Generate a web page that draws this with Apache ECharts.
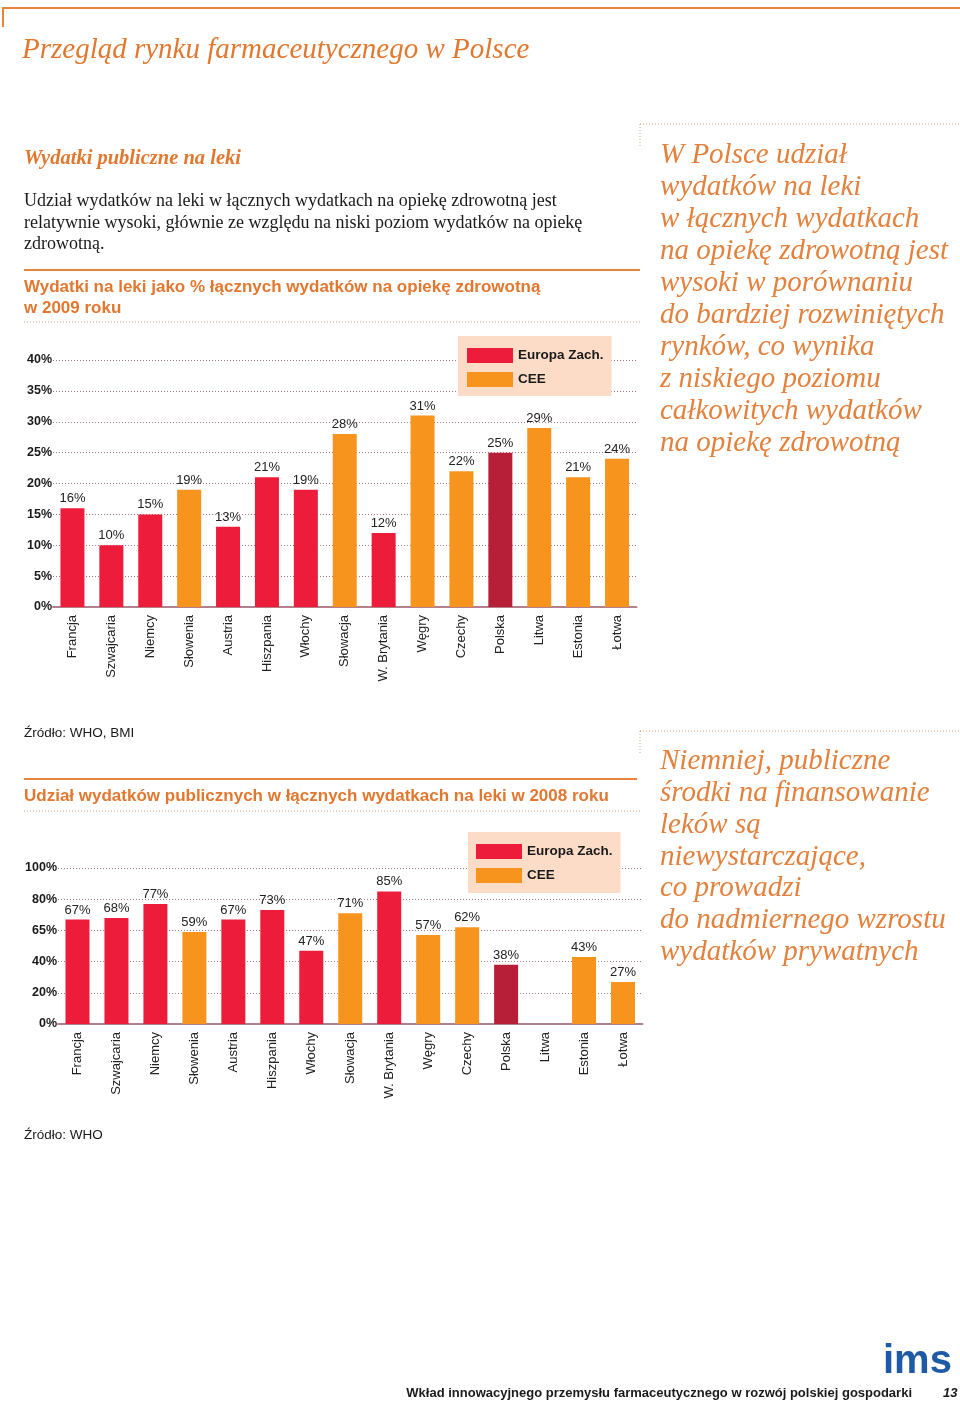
<!DOCTYPE html>
<html>
<head>
<meta charset="utf-8">
<script src="https://cdn.jsdelivr.net/npm/echarts@6/dist/echarts.min.js"></script>
<style>
html,body{margin:0;padding:0;background:#fff;}
#page{width:960px;height:1402px;}
</style>
</head>
<body>
<div id="page"></div>
<script>
// ---- data ----
const countries = ['Francja','Szwajcaria','Niemcy','Słowenia','Austria','Hiszpania','Włochy','Słowacja','W. Brytania','Węgry','Czechy','Polska','Litwa','Estonia','Łotwa'];
const regions = ['W','W','W','C','W','W','W','C','W','C','C','C','C','C','C']; // W = Europa Zach., C = CEE
const highlighted = 'Polska';
const drugShare2009 = [16,10,15,19,13,21,19,28,12,31,22,25,29,21,24];
const publicShare2008 = [67,68,77,59,67,73,47,71,85,57,62,38,null,43,27];
const yTicks1 = ['0%','5%','10%','15%','20%','25%','30%','35%','40%'];
const yTicks2 = ['0%','20%','40%','65%','80%','100%'];
const seriesNames = ['Europa Zach.','CEE'];

// ---- styles ----
const RED = '#ec1c3a', ORANGE = '#f7941d', DARK = '#b71f38';
const TITLE_OR = '#e2782f', QUOTE_OR = '#e3813d';
const SANS = '"Liberation Sans", Arial, sans-serif';
const SERIF = '"Liberation Serif", "Times New Roman", serif';

function seriesData(values, code) {
  return values.map((v, i) => {
    if (regions[i] !== code || v === null) return '-';
    if (countries[i] === highlighted) return { value: v, itemStyle: { color: DARK } };
    return v;
  });
}

function makeSeries(values, idx) {
  return ['W','C'].map((code, k) => ({
    name: seriesNames[k],
    type: 'bar',
    xAxisIndex: idx, yAxisIndex: idx,
    stack: 'chart' + idx,
    barWidth: 24,
    itemStyle: { color: k === 0 ? RED : ORANGE },
    label: {
      show: true, position: 'top', distance: 3,
      formatter: p => p.value + '%',
      color: '#222', fontFamily: SANS, fontSize: 13
    },
    emphasis: { disabled: true },
    data: seriesData(values, code)
  }));
}

const gridLine = { show: true, lineStyle: { type: [1, 2], color: '#a87878', width: 1 } };
const xAxisCommon = {
  type: 'category', data: countries,
  axisTick: { show: false },
  axisLine: { show: true, lineStyle: { color: '#b3808c', width: 2 } },
  axisLabel: { rotate: 90, color: '#222', fontFamily: SANS, fontSize: 13, margin: 8, interval: 0 }
};

function txt(x, y, text, font, fill, extra) {
  return Object.assign({ type: 'text', x: x, y: y, silent: true,
    style: Object.assign({ text: text, font: font, fill: fill, verticalAlign: 'middle', align: 'left' }, extra || {}) });
}
function line(x1, y1, x2, y2, color, width, dash) {
  return { type: 'line', silent: true, shape: { x1, y1, x2, y2 },
    style: { stroke: color, lineWidth: width, lineDash: dash || null } };
}

const paragraph = [
  'Udział wydatków na leki w łącznych wydatkach na opiekę zdrowotną jest',
  'relatywnie wysoki, głównie ze względu na niski poziom wydatków na opiekę',
  'zdrowotną.'
];
const quote1 = ['W Polsce udział','wydatków na leki','w łącznych wydatkach','na opiekę zdrowotną jest','wysoki w porównaniu','do bardziej rozwiniętych','rynków, co wynika','z niskiego poziomu','całkowitych wydatków','na opiekę zdrowotną'];
const quote2 = ['Niemniej, publiczne','środki na finansowanie','leków są','niewystarczające,','co prowadzi','do nadmiernego wzrostu','wydatków prywatnych'];

const graphics = [
  line(3, 8, 960, 8, '#e8843c', 2),
  line(3, 7, 3, 27, '#e8843c', 2),
  txt(22, 50, 'Przegląd rynku farmaceutycznego w Polsce', 'italic 29px ' + SERIF, TITLE_OR),
  txt(24, 159, 'Wydatki publiczne na leki', 'italic bold 20.5px ' + SERIF, TITLE_OR),
  txt(24, 191, paragraph.join('\n'), '18px ' + SERIF, '#1a1a1a', { verticalAlign: 'top', lineHeight: 21.5 }),
  line(24, 270, 640, 270, '#e8843c', 2),
  txt(24, 287, 'Wydatki na leki jako % łącznych wydatków na opiekę zdrowotną', 'bold 17px ' + SANS, TITLE_OR),
  txt(24, 308, 'w 2009 roku', 'bold 17px ' + SANS, TITLE_OR),
  line(24, 322, 640, 322, '#d9a27a', 1, [1, 2]),
  line(640, 124, 960, 124, '#d9a27a', 1, [1, 2]),
  line(640, 124, 640, 148, '#d9a27a', 1, [1, 2]),
  txt(660, 139, quote1.join('\n'), 'italic 29px ' + SERIF, QUOTE_OR, { verticalAlign: 'top', lineHeight: 32 }),
  txt(24, 733, 'Źródło: WHO, BMI', '13.5px ' + SANS, '#1a1a1a'),
  line(24, 779, 637, 779, '#e8843c', 2),
  txt(24, 796, 'Udział wydatków publicznych w łącznych wydatkach na leki w 2008 roku', 'bold 17px ' + SANS, TITLE_OR),
  line(24, 811, 640, 811, '#d9a27a', 1, [1, 2]),
  line(640, 731, 960, 731, '#d9a27a', 1, [1, 2]),
  line(640, 731, 640, 755, '#d9a27a', 1, [1, 2]),
  txt(660, 746, quote2.join('\n'), 'italic 29px ' + SERIF, QUOTE_OR, { verticalAlign: 'top', lineHeight: 31.7 }),
  txt(24, 1135, 'Źródło: WHO', '13.5px ' + SANS, '#1a1a1a'),
  txt(883, 1362, 'ims', 'bold 40px ' + SANS, '#1f5aa6'),
  txt(912, 1393, 'Wkład innowacyjnego przemysłu farmaceutycznego w rozwój polskiej gospodarki', 'bold 13px ' + SANS, '#1a1a1a', { align: 'right' }),
  txt(943, 1393, '13', 'italic bold 13px ' + SANS, '#1a1a1a')
];

const legendCommon = {
  orient: 'vertical', data: seriesNames,
  icon: 'rect', itemWidth: 46, itemHeight: 15, itemGap: 9,
  backgroundColor: '#fcdcc6', borderRadius: 0,
  textStyle: { fontFamily: SANS, fontWeight: 'bold', fontSize: 13.5, color: '#1a1a1a' },
  selectedMode: false
};

const option = {
  animation: false,
  backgroundColor: '#ffffff',
  graphic: graphics,
  legend: [
    Object.assign({}, legendCommon, { left: 458, top: 336, padding: [12, 8, 9, 9] }),
    Object.assign({}, legendCommon, { left: 468, top: 832, padding: [12, 8, 10, 8] })
  ],
  grid: [
    { left: 53, right: 323.5, top: 360, bottom: 795, containLabel: false },
    { left: 58, right: 317.5, top: 868, bottom: 378, containLabel: false }
  ],
  xAxis: [
    Object.assign({ gridIndex: 0 }, xAxisCommon),
    Object.assign({ gridIndex: 1 }, xAxisCommon)
  ],
  yAxis: [
    { type: 'value', gridIndex: 0, min: 0, max: 40, interval: 5,
      axisLine: { show: false }, axisTick: { show: false }, splitLine: gridLine,
      axisLabel: { margin: 1, color: '#1a1a1a', fontFamily: SANS, fontWeight: 'bold', fontSize: 12.5,
        formatter: v => yTicks1[Math.round(v / 5)] } },
    { type: 'value', gridIndex: 1, min: 0, max: 100, interval: 20,
      axisLine: { show: false }, axisTick: { show: false }, splitLine: gridLine,
      axisLabel: { margin: 1, color: '#1a1a1a', fontFamily: SANS, fontWeight: 'bold', fontSize: 12.5,
        formatter: v => yTicks2[Math.round(v / 20)] } }
  ],
  series: makeSeries(drugShare2009, 0).concat(makeSeries(publicShare2008, 1))
};

const chart = echarts.init(document.getElementById('page'), null, { renderer: 'canvas', width: 960, height: 1402 });
chart.setOption(option);
</script>
</body>
</html>
